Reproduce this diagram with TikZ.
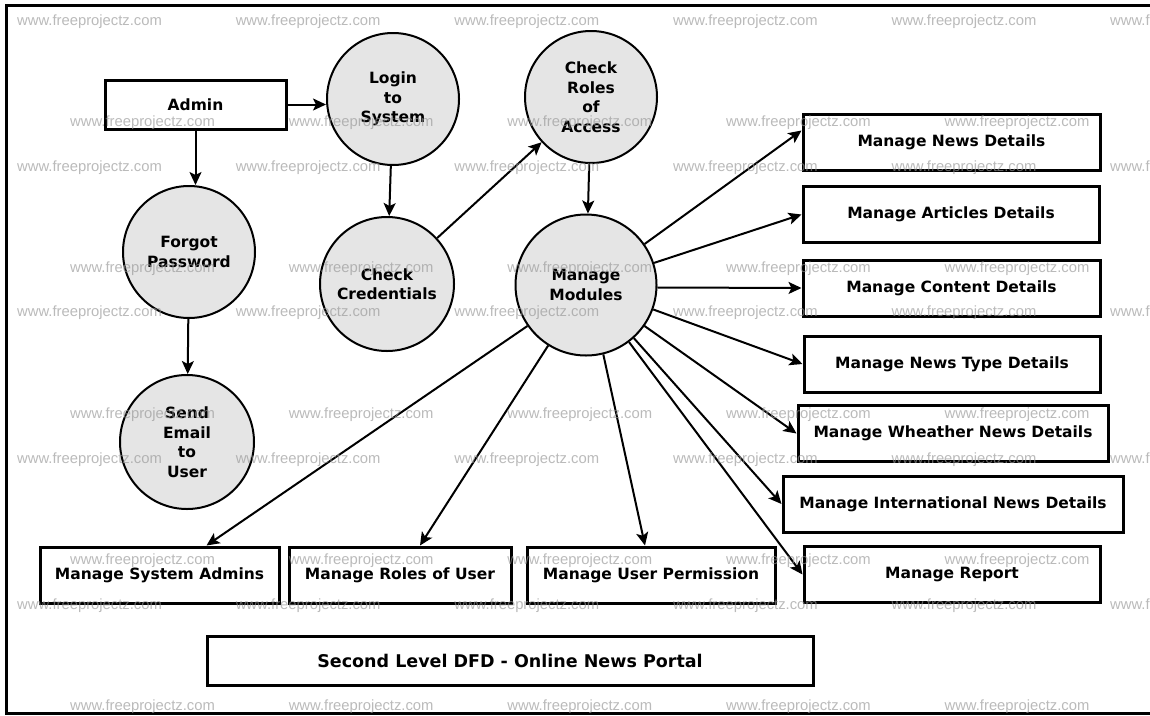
\documentclass[tikz,border=0pt]{standalone}
\usepackage{fontspec}
\setmainfont{DejaVu Sans}
\newfontfamily\wmfont{Liberation Sans}
\usetikzlibrary{arrows.meta}

\definecolor{procfill}{RGB}{229,229,229}
\definecolor{wmgray}{RGB}{150,150,150}

\begin{document}
\begin{tikzpicture}[x=1pt,y=-1pt,
  every node/.style={font=\fontsize{15.5}{19.5}\selectfont\bfseries, align=center, inner sep=0pt},
  proc/.style={circle, draw=black, line width=2pt, fill=procfill, minimum size=132pt},
  entity/.style={rectangle, draw=black, line width=3pt, fill=white, minimum height=56pt},
  flow/.style={line width=2pt, -{Stealth[length=13pt,width=12pt,inset=3pt]}},
  wm/.style={font=\wmfont\fontsize{14.8}{16}\selectfont, text=wmgray, opacity=0.65, anchor=west}
]
\useasboundingbox (0,0) rectangle (1150,715);
\clip (0,0) rectangle (1150,715);
\fill[white] (0,0) rectangle (1150,715);

% outer frame (open on the right)
\draw[line width=3pt] (1170,5) -- (6,5) -- (6,713) -- (1170,713);

% processes
\node[proc] (login)  at (393,99)  {Login\\to\\System};
\node[proc] (roles)  at (591,97)  {Check\\Roles\\of\\Access};
\node[proc] (forgot) at (189,252) {Forgot\\Password};
\node[proc, minimum size=134pt] (cred) at (387,284) {Check\\Credentials};
\node[proc, minimum size=134pt] (mail) at (187,442) {Send\\Email\\to\\User};
\node[proc, minimum size=141pt] (mm) at (586,285) {Manage\\Modules};

% external entity
\node[entity, minimum width=181pt, minimum height=49pt] (admin) at (195.5,104.5) {Admin};

% managed data stores, right column
\node[entity, minimum width=297pt] (news)    at (951.5,142.5) {Manage News Details};
\node[entity, minimum width=296pt] (article) at (951,214.5)   {Manage Articles Details};
\node[entity, minimum width=297pt] (content) at (951.5,288)   {Manage Content Details};
\node[entity, minimum width=296pt] (ntype)   at (952,364)     {Manage News Type Details};
\node[entity, minimum width=310pt] (weather) at (953,433.5)   {Manage Wheather News Details};
\node[entity, minimum width=340pt] (intl)    at (953,504)     {Manage International News Details};
\node[entity, minimum width=296pt] (report)  at (952,574.5)   {Manage Report};

% bottom row
\node[entity, minimum width=239pt] (sysadm) at (159.5,575) {Manage System Admins};
\node[entity, minimum width=222pt] (uroles) at (400,575)   {Manage Roles of User};
\node[entity, minimum width=248pt] (perm)   at (651,575)   {Manage User Permission};

% caption
\node[entity, minimum width=606pt, minimum height=49pt,
      font=\fontsize{17.5}{20}\selectfont\bfseries] (title) at (510,660.5)
      {Second Level DFD - Online News Portal};

% flows
\draw[flow] (admin.east) -- (admin.east -| login.west);
\draw[flow] (admin.south) -- (admin.south |- forgot.north);
\draw[flow] (login) -- (cred);
\draw[flow] (cred) -- (roles);
\draw[flow] (roles) -- (mm);
\draw[flow] (forgot) -- (mail);

\draw[flow] (mm.35)  -- ([yshift=12pt]news.west);
\draw[flow] (mm.18)  -- (article.west);
\draw[flow] (mm.-2)  -- (content.west);
\draw[flow] (mm.-20) -- (ntype.west);
\draw[flow] (mm.-35) -- (weather.west);
\draw[flow] (mm.-48) -- (intl.west);
\draw[flow] (mm.-53) -- (report.west);
\draw[flow] (mm.-76) -- ([xshift=-6pt]perm.north);
\draw[flow] (mm.-122) -- ([xshift=20pt]uroles.north);
\draw[flow] (mm.-145) -- ([xshift=47pt]sysadm.north);

% site stamp
\foreach \yy in {22,168,313,460,606} {
  \foreach \k in {0,...,5} {
    \node[wm] (wa\k) at (17+218.6*\k,\yy) {www.freeprojectz.com};
  }
}
\foreach \yy in {123,269,415,561,707} {
  \foreach \k in {0,...,4} {
    \node[wm] (wb\k) at (70+218.6*\k,\yy) {www.freeprojectz.com};
  }
}
\end{tikzpicture}
\end{document}
